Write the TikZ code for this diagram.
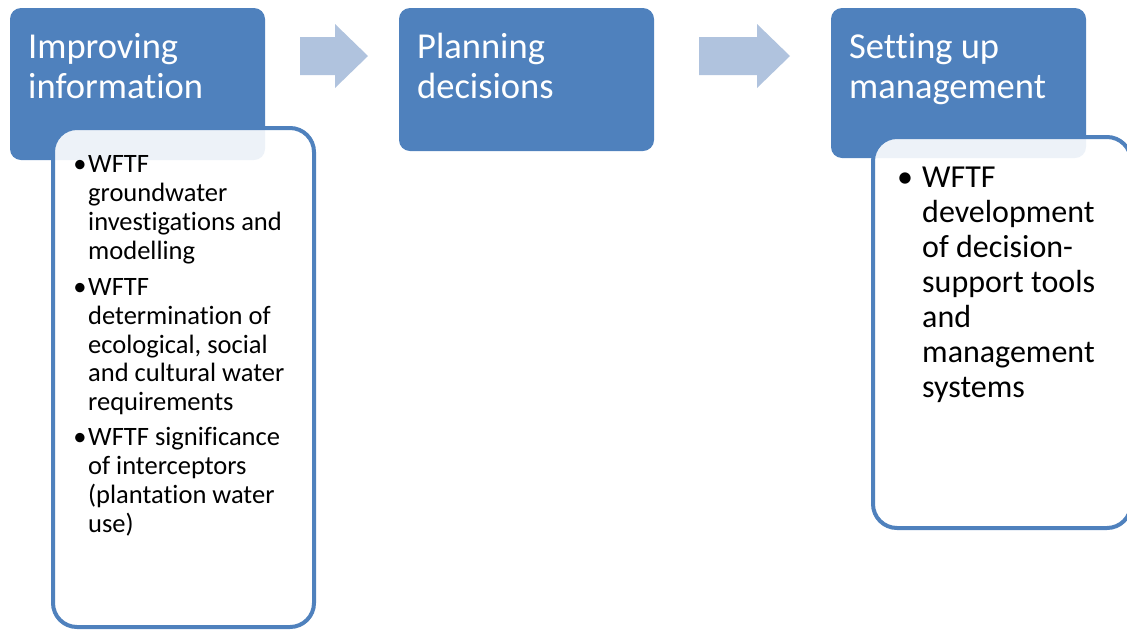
\documentclass[tikz,border=0pt]{standalone}
\usepackage{fontspec}
\setmainfont{Carlito}[Ligatures={NoCommon}]
\definecolor{accblue}{HTML}{4F81BD}
\definecolor{arrowblue}{HTML}{B0C3DE}
\tikzset{
  x=1pt, y=-1pt,
  headbox/.style={fill=accblue, rounded corners=11pt},
  detailbox/.style={draw=accblue, line width=4pt, fill=white, fill opacity=0.9, rounded corners=24pt},
  flowarrow/.style={fill=arrowblue},
  headtxt/.style={anchor=base west, inner sep=0pt, text=white, font=\fontsize{36.5}{40}\selectfont},
  ltxt/.style={anchor=base west, inner sep=0pt, font=\fontsize{26.5}{29}\selectfont},
  lbul/.style={anchor=base, inner sep=0pt, font=\fontsize{26.5}{29}\selectfont},
  rtxt/.style={anchor=base west, inner sep=0pt, font=\fontsize{32}{35}\selectfont},
  rbul/.style={anchor=base, inner sep=0pt, font=\fontsize{32}{35}\selectfont},
}
\begin{document}
\begin{tikzpicture}
\clip (0,0) rectangle (1127,630);
% head boxes
\path[headbox] (10,8) rectangle (265,160);
\path[headbox] (399,8) rectangle (654,151);
\path[headbox] (831,8) rectangle (1086,158);
% arrows
\path[flowarrow] (300,37) -- (335,37) -- (335,24) -- (368,56) -- (335,88) -- (335,75) -- (300,75) -- cycle;
\path[flowarrow] (699,37) -- (757,37) -- (757,24) -- (790,56) -- (757,88) -- (757,75) -- (699,75) -- cycle;
% detail boxes
\path[detailbox] (53,128) rectangle (314,627);
\path[detailbox] (873,137) rectangle (1131,528);
% head texts
\node[headtxt] (h1a) at (28,58) {Improving};
\node[headtxt] (h1b) at (28,98) {information};
\node[headtxt] (h2a) at (417,58) {Planning};
\node[headtxt] (h2b) at (417,98) {decisions};
\node[headtxt] (h3a) at (849,58) {Setting up};
\node[headtxt] (h3b) at (849,98) {management};
% left details
\node[lbul] (lb1) at (80,172) {•};
\node[ltxt] (l1) at (88,172) {WFTF};
\node[ltxt] (l2) at (88,201) {groundwater};
\node[ltxt] (l3) at (88,230) {investigations and};
\node[ltxt] (l4) at (88,259) {modelling};
\node[lbul] (lb2) at (80,295) {•};
\node[ltxt] (l5) at (88,295) {WFTF};
\node[ltxt] (l6) at (88,324) {determination of};
\node[ltxt] (l7) at (88,353) {ecological, social};
\node[ltxt] (l8) at (88,381) {and cultural water};
\node[ltxt] (l9) at (88,410) {requirements};
\node[lbul] (lb3) at (80,445) {•};
\node[ltxt] (l10) at (88,445) {WFTF significance};
\node[ltxt] (l11) at (88,474) {of interceptors};
\node[ltxt] (l12) at (88,503) {(plantation water};
\node[ltxt] (l13) at (88,532) {use)};
% right details
\node[rbul] (rb1) at (905,187) {•};
\node[rtxt] (r1) at (922,187) {WFTF};
\node[rtxt] (r2) at (922,222) {development};
\node[rtxt] (r3) at (922,257) {of decision-};
\node[rtxt] (r4) at (922,292) {support tools};
\node[rtxt] (r5) at (922,327) {and};
\node[rtxt] (r6) at (922,362) {management};
\node[rtxt] (r7) at (922,397) {systems};
\end{tikzpicture}
\end{document}
